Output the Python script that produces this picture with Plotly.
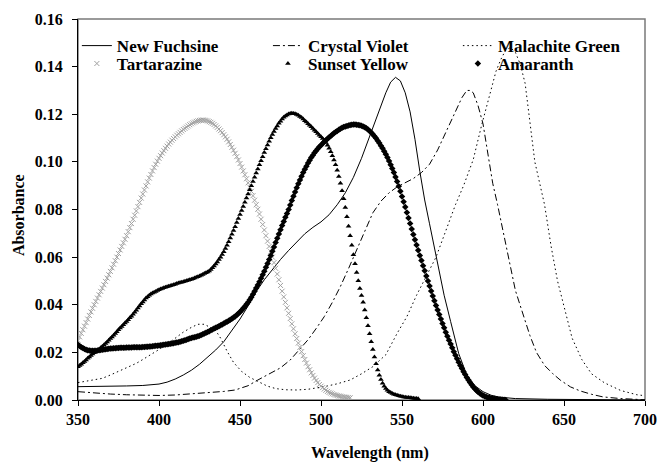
import plotly.graph_objects as go

# ---------------- data ----------------
nf_x = [350, 355, 360, 370, 380, 390, 395, 400, 405, 410, 415, 420, 425, 430, 435, 440, 445, 450,
        455, 460, 465, 470, 475, 480, 485, 490, 495, 500, 505, 510, 515, 520, 525, 530, 535, 540,
        543, 546, 549, 552, 555, 558, 561, 564, 567, 570, 573, 576, 580, 585, 590, 595, 600, 605,
        610, 620, 640, 670, 700]
nf_y = [0.0056, 0.0056, 0.0057, 0.0058, 0.0059, 0.0061, 0.0063, 0.0067, 0.0075, 0.0088, 0.0105,
        0.0125, 0.0150, 0.0178, 0.0210, 0.0245, 0.0290, 0.0340, 0.0395, 0.0455, 0.0505, 0.0550,
        0.0590, 0.0628, 0.0665, 0.0698, 0.0725, 0.0748, 0.0778, 0.0820, 0.0870, 0.0935, 0.1015,
        0.1105, 0.1200, 0.1290, 0.1335, 0.1355, 0.1340, 0.1290, 0.1210, 0.1095, 0.0960, 0.0840,
        0.0740, 0.0635, 0.0535, 0.0440, 0.0330, 0.0195, 0.0105, 0.0060, 0.0035, 0.0020, 0.0012,
        0.0006, 0.0003, 0.0001, 0.0000]

cv_x = [350, 355, 360, 365, 370, 380, 390, 396, 400, 410, 420, 430, 440, 447, 455, 461, 467, 475,
        481, 486, 492, 497, 502, 507, 512, 517, 522, 527, 532, 537, 542, 547, 552, 557, 562, 567,
        572, 576, 580, 584, 587, 590, 592, 594, 597, 600, 603, 606, 609, 612, 616, 620, 624, 629,
        633, 638, 643, 648, 654, 660, 667, 674, 685, 695, 700]
cv_y = [0.0035, 0.0032, 0.0030, 0.0027, 0.0025, 0.0022, 0.0019, 0.0018, 0.0019, 0.0021, 0.0025,
        0.0030, 0.0036, 0.0042, 0.0060, 0.0084, 0.0105, 0.0135, 0.0168, 0.0205, 0.0253, 0.0300,
        0.0350, 0.0410, 0.0477, 0.0552, 0.0630, 0.0712, 0.0786, 0.0835, 0.0870, 0.0895, 0.0912,
        0.0930, 0.0955, 0.0990, 0.1050, 0.1110, 0.1170, 0.1225, 0.1270, 0.1300, 0.1300, 0.1290,
        0.1235, 0.1160, 0.1040, 0.0910, 0.0820, 0.0720, 0.0590, 0.0460, 0.0375, 0.0270, 0.0200,
        0.0145, 0.0111, 0.0082, 0.0055, 0.0038, 0.0024, 0.0013, 0.0006, 0.0002, 0.0001]

mg_x = [350, 355, 360, 365, 370, 375, 380, 386, 390, 395, 400, 406, 410, 415, 420, 424, 428, 432,
        435, 438, 442, 446, 451, 456, 461, 467, 472, 478, 485, 492, 502, 510, 518, 525, 532, 540,
        547, 553, 559, 565, 571, 577, 583, 588, 594, 599, 604, 608, 611, 614, 617, 620, 623, 626,
        629, 632, 638, 642, 646, 651, 655, 661, 667, 675, 685, 695, 700]
mg_y = [0.0073, 0.0078, 0.0084, 0.0091, 0.0105, 0.0120, 0.0135, 0.0154, 0.0170, 0.0190, 0.0212,
        0.0239, 0.0260, 0.0285, 0.0305, 0.0318, 0.0318, 0.0305, 0.0292, 0.0260, 0.0205, 0.0158,
        0.0120, 0.0095, 0.0077, 0.0058, 0.0048, 0.0043, 0.0042, 0.0045, 0.0056, 0.0068, 0.0084,
        0.0110, 0.0140, 0.0190, 0.0280, 0.0350, 0.0440, 0.0520, 0.0600, 0.0710, 0.0820, 0.0900,
        0.1010, 0.1150, 0.1280, 0.1380, 0.1430, 0.1470, 0.1480, 0.1460, 0.1410, 0.1330, 0.1165,
        0.1000, 0.0820, 0.0647, 0.0500, 0.0366, 0.0260, 0.0170, 0.0110, 0.0072, 0.0040, 0.0022,
        0.0018]

tz_x = list(range(350, 519))
tz_y = [0.0250, 0.0265, 0.0280, 0.0295, 0.0310, 0.0325, 0.0340, 0.0355, 0.0370, 0.0385,
        0.0400, 0.0414, 0.0428, 0.0442, 0.0456, 0.0470, 0.0484, 0.0498, 0.0512, 0.0526,
        0.0540, 0.0555, 0.0570, 0.0585, 0.0600, 0.0615, 0.0630, 0.0645, 0.0660, 0.0675,
        0.0690, 0.0707, 0.0724, 0.0741, 0.0759, 0.0776, 0.0794, 0.0812, 0.0830, 0.0848,
        0.0865, 0.0882, 0.0899, 0.0916, 0.0932, 0.0947, 0.0962, 0.0976, 0.0990, 0.1003,
        0.1015, 0.1026, 0.1037, 0.1047, 0.1057, 0.1066, 0.1075, 0.1083, 0.1091, 0.1098,
        0.1105, 0.1112, 0.1118, 0.1124, 0.1130, 0.1136, 0.1141, 0.1146, 0.1151, 0.1156,
        0.1160, 0.1164, 0.1167, 0.1170, 0.1172, 0.1174, 0.1175, 0.1176, 0.1175, 0.1174,
        0.1172, 0.1169, 0.1166, 0.1162, 0.1157, 0.1151, 0.1145, 0.1138, 0.1131, 0.1123,
        0.1114, 0.1105, 0.1095, 0.1084, 0.1073, 0.1061, 0.1049, 0.1036, 0.1022, 0.1008,
        0.0993, 0.0978, 0.0962, 0.0946, 0.0929, 0.0912, 0.0894, 0.0876, 0.0858, 0.0839,
        0.0820, 0.0801, 0.0781, 0.0759, 0.0737, 0.0714, 0.0690, 0.0667, 0.0645, 0.0623,
        0.0600, 0.0577, 0.0553, 0.0529, 0.0505, 0.0481, 0.0457, 0.0433, 0.0410, 0.0387,
        0.0364, 0.0342, 0.0320, 0.0299, 0.0278, 0.0258, 0.0239, 0.0221, 0.0203, 0.0186,
        0.0170, 0.0155, 0.0140, 0.0127, 0.0114, 0.0103, 0.0092, 0.0082, 0.0073, 0.0065,
        0.0058, 0.0052, 0.0046, 0.0041, 0.0036, 0.0032, 0.0029, 0.0026, 0.0023, 0.0021,
        0.0019, 0.0017, 0.0016, 0.0014, 0.0013, 0.0012, 0.0011, 0.0010, 0.0009]

sy_x = list(range(350, 561))
sy_y = [0.0140, 0.0145, 0.0150, 0.0156, 0.0162, 0.0168, 0.0175, 0.0181, 0.0187, 0.0193,
        0.0198, 0.0203, 0.0208, 0.0213, 0.0219, 0.0225, 0.0231, 0.0237, 0.0244, 0.0251,
        0.0258, 0.0265, 0.0272, 0.0279, 0.0287, 0.0295, 0.0302, 0.0309, 0.0316, 0.0323,
        0.0330, 0.0337, 0.0345, 0.0352, 0.0360, 0.0368, 0.0377, 0.0386, 0.0395, 0.0404,
        0.0412, 0.0420, 0.0428, 0.0434, 0.0440, 0.0445, 0.0449, 0.0453, 0.0456, 0.0460,
        0.0463, 0.0466, 0.0468, 0.0471, 0.0473, 0.0476, 0.0478, 0.0480, 0.0482, 0.0484,
        0.0486, 0.0489, 0.0491, 0.0493, 0.0495, 0.0497, 0.0499, 0.0501, 0.0503, 0.0505,
        0.0507, 0.0509, 0.0512, 0.0515, 0.0518, 0.0521, 0.0524, 0.0527, 0.0531, 0.0534,
        0.0538, 0.0542, 0.0548, 0.0555, 0.0563, 0.0571, 0.0580, 0.0590, 0.0600, 0.0611,
        0.0623, 0.0636, 0.0650, 0.0665, 0.0680, 0.0696, 0.0712, 0.0728, 0.0745, 0.0762,
        0.0779, 0.0796, 0.0813, 0.0830, 0.0848, 0.0865, 0.0883, 0.0900, 0.0918, 0.0935,
        0.0953, 0.0970, 0.0988, 0.1005, 0.1022, 0.1039, 0.1055, 0.1071, 0.1087, 0.1101,
        0.1115, 0.1128, 0.1140, 0.1151, 0.1162, 0.1171, 0.1180, 0.1187, 0.1193, 0.1197,
        0.1201, 0.1203, 0.1204, 0.1203, 0.1202, 0.1199, 0.1196, 0.1191, 0.1186, 0.1180,
        0.1173, 0.1167, 0.1160, 0.1154, 0.1147, 0.1140, 0.1133, 0.1126, 0.1119, 0.1112,
        0.1105, 0.1098, 0.1090, 0.1081, 0.1070, 0.1057, 0.1043, 0.1026, 0.1008, 0.0988,
        0.0965, 0.0939, 0.0910, 0.0879, 0.0845, 0.0808, 0.0770, 0.0730, 0.0690, 0.0650,
        0.0610, 0.0572, 0.0535, 0.0501, 0.0468, 0.0439, 0.0410, 0.0378, 0.0345, 0.0312,
        0.0278, 0.0245, 0.0212, 0.0181, 0.0152, 0.0126, 0.0104, 0.0086, 0.0070, 0.0058,
        0.0048, 0.0041, 0.0035, 0.0031, 0.0027, 0.0024, 0.0022, 0.0020, 0.0018, 0.0016,
        0.0015, 0.0013, 0.0012, 0.0011, 0.0010, 0.0009, 0.0008, 0.0007, 0.0006, 0.0006,
        0.0005]

am_x = list(range(350, 615))
am_y = [0.0232, 0.0227, 0.0222, 0.0218, 0.0214, 0.0211, 0.0209, 0.0208, 0.0207, 0.0207,
        0.0207, 0.0207, 0.0208, 0.0209, 0.0210, 0.0211, 0.0212, 0.0213, 0.0214, 0.0215,
        0.0216, 0.0216, 0.0217, 0.0217, 0.0218, 0.0218, 0.0219, 0.0219, 0.0219, 0.0219,
        0.0220, 0.0220, 0.0220, 0.0220, 0.0221, 0.0221, 0.0222, 0.0222, 0.0222, 0.0222,
        0.0223, 0.0223, 0.0224, 0.0224, 0.0225, 0.0225, 0.0226, 0.0227, 0.0228, 0.0228,
        0.0229, 0.0230, 0.0231, 0.0232, 0.0233, 0.0234, 0.0235, 0.0236, 0.0237, 0.0238,
        0.0240, 0.0241, 0.0243, 0.0245, 0.0247, 0.0249, 0.0251, 0.0253, 0.0256, 0.0258,
        0.0260, 0.0262, 0.0264, 0.0266, 0.0268, 0.0270, 0.0273, 0.0276, 0.0279, 0.0282,
        0.0286, 0.0289, 0.0293, 0.0296, 0.0300, 0.0303, 0.0307, 0.0310, 0.0314, 0.0317,
        0.0321, 0.0325, 0.0329, 0.0333, 0.0337, 0.0341, 0.0346, 0.0351, 0.0357, 0.0363,
        0.0370, 0.0377, 0.0385, 0.0393, 0.0402, 0.0411, 0.0421, 0.0432, 0.0444, 0.0457,
        0.0470, 0.0483, 0.0497, 0.0511, 0.0526, 0.0541, 0.0557, 0.0573, 0.0590, 0.0607,
        0.0625, 0.0643, 0.0661, 0.0679, 0.0697, 0.0715, 0.0733, 0.0750, 0.0767, 0.0783,
        0.0800, 0.0819, 0.0838, 0.0856, 0.0874, 0.0891, 0.0908, 0.0924, 0.0940, 0.0955,
        0.0969, 0.0982, 0.0995, 0.1007, 0.1018, 0.1028, 0.1038, 0.1047, 0.1055, 0.1063,
        0.1070, 0.1077, 0.1084, 0.1091, 0.1097, 0.1103, 0.1109, 0.1115, 0.1120, 0.1125,
        0.1130, 0.1135, 0.1139, 0.1143, 0.1146, 0.1149, 0.1151, 0.1153, 0.1155, 0.1156,
        0.1157, 0.1157, 0.1156, 0.1155, 0.1154, 0.1152, 0.1149, 0.1145, 0.1141, 0.1136,
        0.1130, 0.1123, 0.1116, 0.1108, 0.1099, 0.1089, 0.1079, 0.1068, 0.1057, 0.1045,
        0.1032, 0.1018, 0.1004, 0.0988, 0.0972, 0.0955, 0.0937, 0.0918, 0.0898, 0.0877,
        0.0855, 0.0833, 0.0810, 0.0787, 0.0764, 0.0741, 0.0718, 0.0695, 0.0673, 0.0651,
        0.0629, 0.0607, 0.0586, 0.0564, 0.0543, 0.0521, 0.0500, 0.0479, 0.0458, 0.0437,
        0.0417, 0.0397, 0.0378, 0.0359, 0.0340, 0.0321, 0.0303, 0.0285, 0.0268, 0.0251,
        0.0235, 0.0219, 0.0203, 0.0188, 0.0173, 0.0159, 0.0145, 0.0132, 0.0119, 0.0107,
        0.0095, 0.0084, 0.0074, 0.0064, 0.0055, 0.0047, 0.0040, 0.0034, 0.0028, 0.0023,
        0.0019, 0.0016, 0.0013, 0.0011, 0.0009, 0.0007, 0.0006, 0.0005, 0.0004, 0.0003,
        0.0002, 0.0002, 0.0001, 0.0001, 0.0000]

x_ticks = [350, 400, 450, 500, 550, 600, 650, 700]
y_ticks = [0.00, 0.02, 0.04, 0.06, 0.08, 0.10, 0.12, 0.14, 0.16]

FONT = "Liberation Serif"

fig = go.Figure()
fig.add_trace(go.Scatter(x=nf_x, y=nf_y, mode="lines", name="<b>New Fuchsine</b>",
                         line=dict(color="black", width=1), legend="legend", showlegend=True))
fig.add_trace(go.Scatter(x=cv_x, y=cv_y, mode="lines", name="<b>Crystal Violet</b>",
                         line=dict(color="black", width=1, dash="7px,3px,2px,3px"), legend="legend2"))
fig.add_trace(go.Scatter(x=mg_x, y=mg_y, mode="lines", name="<b>Malachite Green</b>",
                         line=dict(color="black", width=1, dash="1.5px,3px"), legend="legend3"))
fig.add_trace(go.Scatter(x=tz_x, y=tz_y, mode="markers", name="<b>Tartarazine</b>",
                         marker=dict(symbol="x-thin", size=5, color="#a0a0a0",
                                     line=dict(width=1, color="#a0a0a0")), legend="legend4"))
fig.add_trace(go.Scatter(x=sy_x, y=sy_y, mode="markers", name="<b>Sunset Yellow</b>",
                         marker=dict(symbol="triangle-up", size=5, color="black"), legend="legend5"))
fig.add_trace(go.Scatter(x=am_x, y=am_y, mode="markers", name="<b>Amaranth</b>",
                         marker=dict(symbol="diamond", size=5, color="black"), legend="legend6"))

def leg(x, y):
    return dict(x=x, y=y, bgcolor="rgba(0,0,0,0)", borderwidth=0, orientation="v",
                yanchor="middle", xanchor="left", visible=True,
                font=dict(family=FONT, size=17, color="black"))

col_x = [-0.002, 0.335, 0.670]
row_y = [0.929, 0.882]

fig.update_layout(
    width=659, height=463,
    margin=dict(l=78, r=14, t=19, b=63),
    paper_bgcolor="white", plot_bgcolor="white",
    font=dict(family=FONT, color="black"),
    showlegend=True,
    legend=leg(col_x[0], row_y[0]),
    legend2=leg(col_x[1], row_y[0]),
    legend3=leg(col_x[2], row_y[0]),
    legend4=leg(col_x[0], row_y[1]),
    legend5=leg(col_x[1], row_y[1]),
    legend6=leg(col_x[2], row_y[1]),
    xaxis=dict(range=[350, 700], tickvals=x_ticks, ticktext=[f"<b>{v}</b>" for v in x_ticks],
               ticks="outside", ticklen=5, tickcolor="black", showline=True, linecolor="black",
               linewidth=1, showgrid=False, zeroline=False, ticklabeloverflow="allow",
               automargin=False,
               tickfont=dict(family=FONT, size=16, color="black")),
    yaxis=dict(range=[0, 0.16], tickvals=y_ticks, ticktext=[f"<b>{v:.2f}</b>" for v in y_ticks],
               ticks="outside", ticklen=5, tickcolor="black", showline=True, linecolor="black",
               linewidth=1, showgrid=False, zeroline=False, ticklabelstandoff=6,
               automargin=False,
               tickfont=dict(family=FONT, size=16, color="black")),
    annotations=[
        dict(text="<b>Wavelength (nm)</b>", xref="paper", yref="paper", x=0.515, y=-0.138,
             xanchor="center", yanchor="middle", showarrow=False,
             font=dict(family=FONT, size=16, color="black")),
        dict(text="<b>Absorbance</b>", xref="paper", yref="paper", x=-0.106, y=0.485,
             xanchor="center", yanchor="middle", showarrow=False, textangle=-90,
             font=dict(family=FONT, size=16, color="black")),
    ],
    shapes=[dict(type="rect", xref="paper", yref="paper", x0=0, y0=0, x1=1, y1=1,
                 line=dict(color="#7a7a7a", width=1.5), layer="below")],
)

fig.write_html("out.html")
